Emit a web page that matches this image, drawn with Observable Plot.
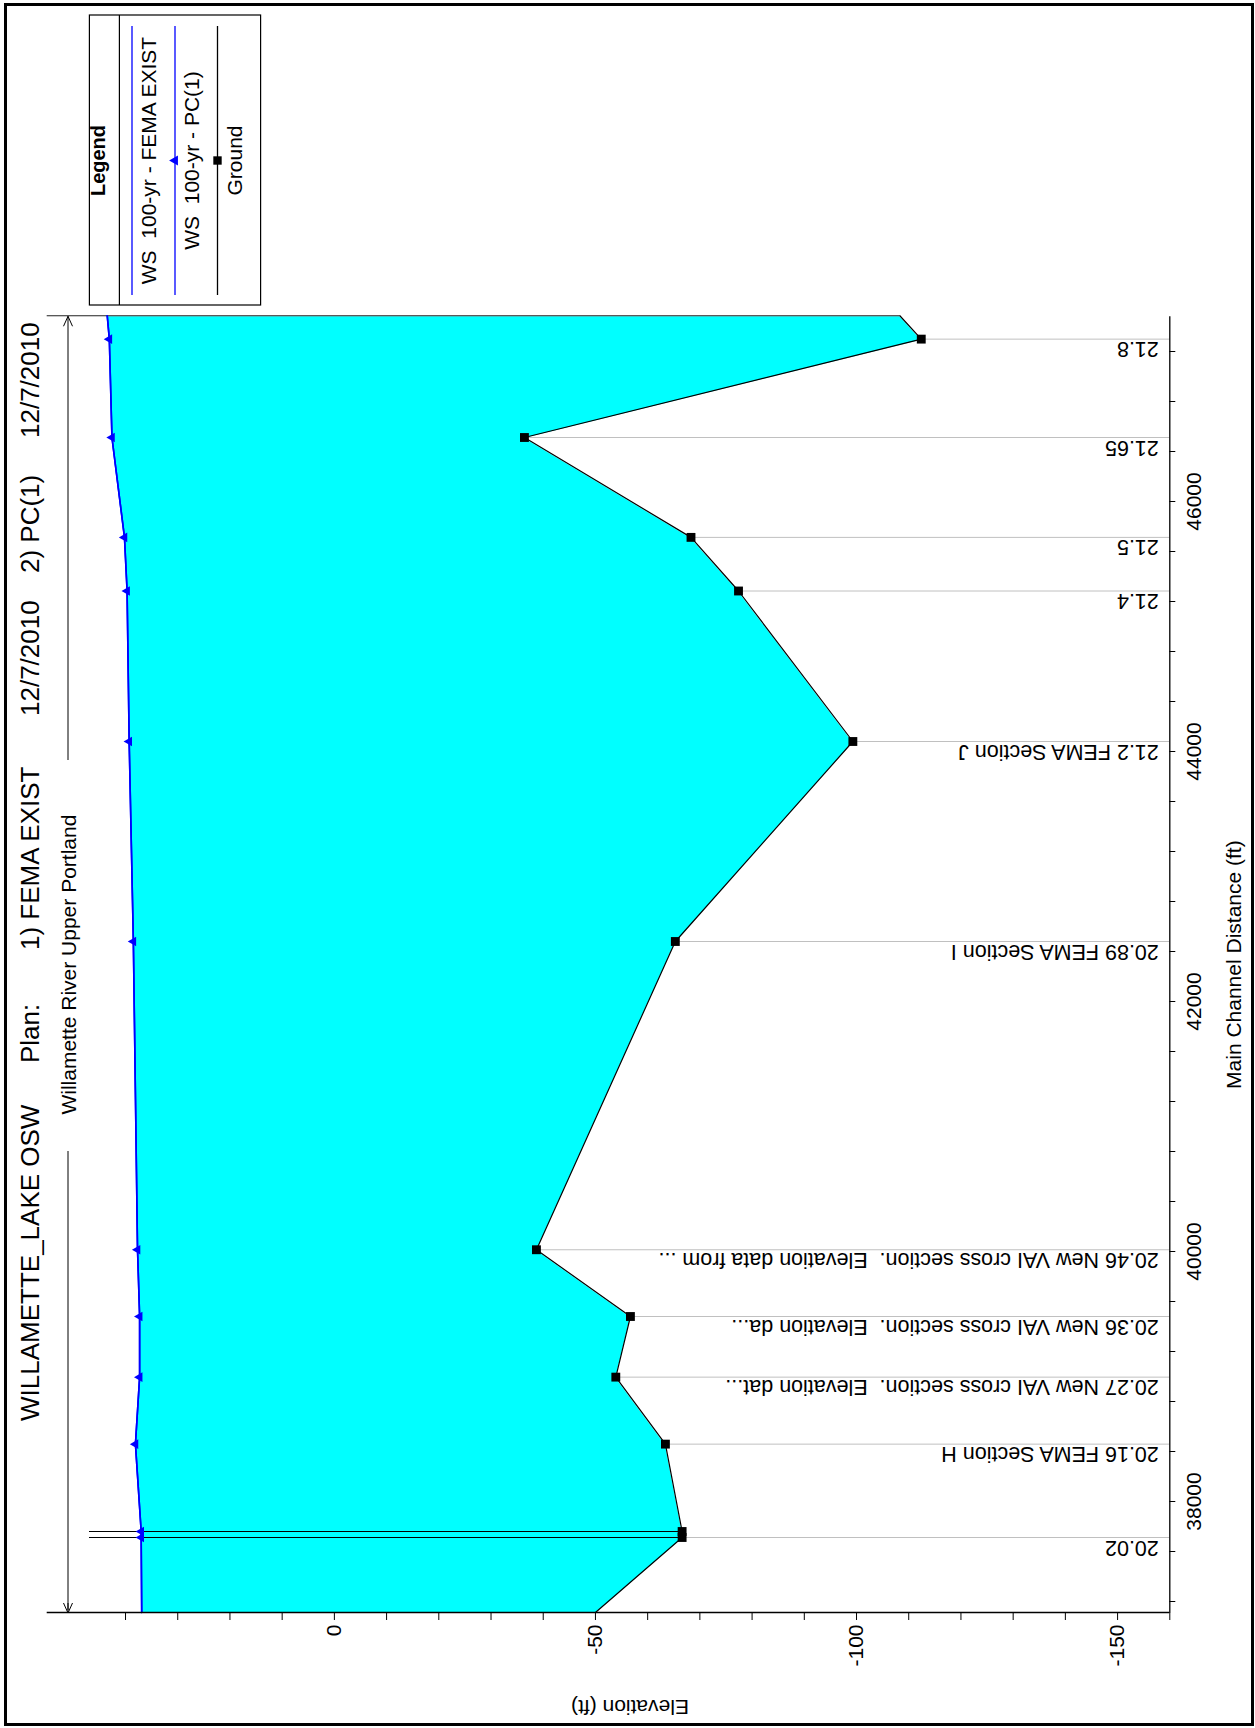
<!DOCTYPE html>
<html><head><meta charset="utf-8">
<script src="https://cdn.jsdelivr.net/npm/d3@7"></script>
<script src="https://cdn.jsdelivr.net/npm/@observablehq/plot@0.6"></script>
<style>
html,body{margin:0;padding:0;background:#fff;overflow:hidden;}
#page{position:relative;width:1255px;height:1728px;overflow:hidden;background:#fff;}
#frame{position:absolute;left:4px;top:3px;width:1250px;height:1723px;border:3px solid #000;box-sizing:border-box;pointer-events:none;}
#rot{position:absolute;left:0;top:0;width:1728px;height:1255px;transform-origin:0 0;transform:translate(0px,1728px) rotate(-90deg);}
#rot svg text{white-space:pre;}
</style></head>
<body><div id="page"><div id="rot"></div><div id="frame"></div></div>
<script>
// ---------- data ----------
const titleParts = ["WILLAMETTE_LAKE OSW", "Plan:", "1) FEMA EXIST", "12/7/2010", "2) PC(1)", "12/7/2010"];
const riverName = "Willamette River Upper Portland";
const xAxisLabel = "Main Channel Distance (ft)";
const yAxisLabel = "Elevation (ft)";

const sectionLabels = [
  "20.02",
  "20.16 FEMA Section H",
  "20.27 New VAI cross section.  Elevation dat...",
  "20.36 New VAI cross section.  Elevation da...",
  "20.46 New VAI cross section.  Elevation data from ...",
  "20.89 FEMA Section I",
  "21.2 FEMA Section J",
  "21.4", "21.5", "21.65", "21.8"
];
const sectionDistance = [37712, 38459, 38995, 39480, 40014, 42480, 44080, 45284, 45713, 46512, 47299];
const sectionGround   = [-66.6, -63.4, -53.9, -56.7, -38.7, -65.3, -99.3, -77.4, -68.3, -36.4, -112.4];

// profile points: plot ends, cross sections and the second structure face
const profileDistance = [37112, 37712, 37760, 38459, 38995, 39480, 40014, 42480, 44080, 45284, 45713, 46512, 47299, 47486];
const groundElevation = [-50.0, -66.6, -66.6, -63.4, -53.9, -56.7, -38.7, -65.3, -99.3, -77.4, -68.3, -36.4, -112.4, -108.3];
const wsFemaExist     = [36.9, 37.0, 37.0, 38.1, 37.3, 37.3, 37.7, 38.5, 39.3, 39.7, 40.2, 42.6, 43.1, 43.5];
const wsPC1           = [36.9, 37.0, 37.0, 38.1, 37.3, 37.3, 37.7, 38.5, 39.3, 39.7, 40.2, 42.6, 43.1, 43.5];

const structureDistance = [37712, 37760];
const structureGround   = [-66.6, -66.6];
const structureTop      = [46.9, 46.9];

const xDomain = [37112, 47486];
const yDomain = [-160, 55];
const xTicks = d3.range(37200, 47486, 400);
const yTicks = d3.range(-160, 41, 10);

const legendLabels = ["WS  100-yr - FEMA EXIST", "WS  100-yr - PC(1)", "Ground"];

// ---------- tables ----------
const rows = profileDistance.map((d, i) => ({d, ground: groundElevation[i], ws1: wsFemaExist[i], ws2: wsPC1[i]}));
const markerRows = rows.slice(1, rows.length - 1);
const sections = sectionDistance.map((d, i) => ({d, ground: sectionGround[i], label: sectionLabels[i]}));
const structure = structureDistance.map((d, i) => ({d, y1: structureGround[i], y2: structureTop[i]}));
const lastRow = rows[rows.length - 1];

// ---------- layout (landscape, rotated onto the page) ----------
const W = 1728, H = 1255;
const mL = 115, mR = W - 1411.75, mT = 46.7, mB = H - 1169.3;
const FONT = "'Liberation Sans', Arial, Helvetica, sans-serif";

const plot = Plot.plot({
  width: W, height: H,
  marginLeft: mL, marginRight: mR, marginTop: mT, marginBottom: mB,
  style: {fontFamily: FONT, fontSize: "21px", background: "transparent", color: "#000", overflow: "visible"},
  x: {domain: xDomain, label: null},
  y: {domain: yDomain, label: null},
  marks: [
    Plot.areaY(rows, {x: "d", y1: "ground", y2: "ws2", fill: "#00ffff"}),
    Plot.ruleX(sections, {x: "d", y1: "ground", y2: yDomain[0], stroke: "#c0c0c0", strokeWidth: 1}),
    Plot.ruleX([lastRow], {x: "d", y1: "ground", y2: yDomain[1], stroke: "#222", strokeWidth: 1.2}),
    Plot.ruleX(structure, {x: "d", y1: "y1", y2: "y2", stroke: "#000", strokeWidth: 1.2}),
    Plot.line(rows, {x: "d", y: "ws1", stroke: "#0000ff", strokeWidth: 1.6}),
    Plot.line(rows, {x: "d", y: "ws2", stroke: "#0000ff", strokeWidth: 1.6}),
    Plot.line(rows, {x: "d", y: "ground", stroke: "#000", strokeWidth: 1.2}),
    Plot.dot(markerRows, {x: "d", y: "ws2", symbol: "triangle", r: 3.6, fill: "#0000ff", stroke: "none"}),
    Plot.dot(markerRows, {x: "d", y: "ground", symbol: "square", r: 5, fill: "#000", stroke: "none"}),
    Plot.text(sections, {x: "d", y: yDomain[0], text: "label", rotate: -90, textAnchor: "start", lineAnchor: "bottom", dx: -3, dy: -11, fontSize: 21.5, fill: "#000"}),
    Plot.ruleY([yDomain[0]], {stroke: "#000", strokeWidth: 1.3}),
    Plot.ruleX([xDomain[0]], {stroke: "#000", strokeWidth: 1.3}),
    Plot.axisX({ticks: xTicks, tickSize: 6, tickPadding: 10, tickFormat: d => d % 2000 === 0 ? String(d) : "", fontSize: 21, label: null}),
    Plot.axisY({ticks: yTicks, tickSize: 7, tickPadding: 5, tickFormat: d => d % 50 === 0 ? String(d) : "", fontSize: 21, label: null})
  ]
});
document.getElementById("rot").appendChild(plot);

const svg = d3.select(plot);
const xs = plot.scale("x");
const ann = svg.append("g").attr("font-family", FONT).attr("fill", "#000").attr("text-anchor", "start");

// title
const titleX = [307, 665, 778, 1012, 1155, 1290];
titleParts.forEach((t, i) => {
  ann.append("text").attr("x", titleX[i]).attr("y", 38.5).attr("font-size", 26).attr("text-anchor", "start").text(t);
});

// river reach dimension line
const cx = (xs.range[0] + xs.range[1]) / 2;
const x0 = xs.apply(xDomain[0]), x1 = xs.apply(xDomain[1]);
const dimY = 68;
ann.append("text").attr("x", cx).attr("y", dimY + 7.5).attr("font-size", 21).attr("text-anchor", "middle").text(riverName);
const dl = ann.append("g").attr("stroke", "#000").attr("stroke-width", 1).attr("fill", "none");
dl.append("line").attr("x1", x0).attr("x2", 577).attr("y1", dimY).attr("y2", dimY);
dl.append("line").attr("x1", 968).attr("x2", x1).attr("y1", dimY).attr("y2", dimY);
dl.append("path").attr("d", `M${x0 + 10},${dimY - 4.5}L${x0},${dimY}L${x0 + 10},${dimY + 4.5}M${x0 + 10},${dimY}L${x0 + 3},${dimY}`);
dl.append("path").attr("d", `M${x1 - 10},${dimY - 4.5}L${x1},${dimY}L${x1 - 10},${dimY + 4.5}`);

// axis titles
ann.append("text").attr("x", cx).attr("y", 1241).attr("font-size", 21).attr("text-anchor", "middle").text(xAxisLabel);
ann.append("text").attr("transform", "translate(28,630) rotate(-90)").attr("font-size", 21).attr("text-anchor", "middle").text(yAxisLabel);

// legend
const lg = svg.append("g").attr("font-family", FONT);
const LX0 = 1423, LX1 = 1713, LY0 = 89.4, LY1 = 260.6, LC = 1567.5;
lg.append("rect").attr("x", LX0).attr("y", LY0).attr("width", LX1 - LX0).attr("height", LY1 - LY0).attr("fill", "#fff").attr("stroke", "#000").attr("stroke-width", 1.2);
lg.append("line").attr("x1", LX0).attr("x2", LX1).attr("y1", 119.4).attr("y2", 119.4).attr("stroke", "#000").attr("stroke-width", 1.2);
lg.append("text").attr("x", LC).attr("y", 105).attr("text-anchor", "middle").attr("font-size", 20).attr("font-weight", "bold").text("Legend");
const legendColors = ["#0000ff", "#0000ff", "#000"];
const legendSymbols = [null, d3.symbolTriangle, d3.symbolSquare];
const legendSizes = [0, 45, 70];
const rowY = [132, 175, 217.5];
legendLabels.forEach((lab, i) => {
  lg.append("line").attr("x1", 1433).attr("x2", 1702).attr("y1", rowY[i]).attr("y2", rowY[i]).attr("stroke", legendColors[i]).attr("stroke-width", 1.3);
  if (legendSymbols[i]) {
    lg.append("path").attr("d", d3.symbol(legendSymbols[i], legendSizes[i])()).attr("transform", `translate(${LC},${rowY[i]})`).attr("fill", legendColors[i]);
  }
  lg.append("text").attr("x", LC).attr("y", rowY[i] + 24).attr("text-anchor", "middle").attr("font-size", 21).attr("fill", "#000").text(lab);
});
</script>
</body></html>
